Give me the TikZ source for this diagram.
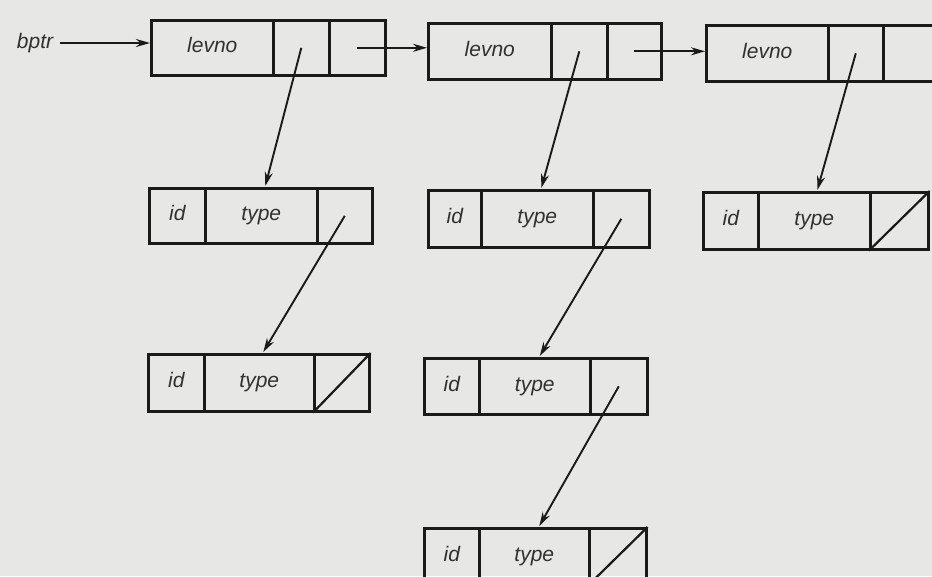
\documentclass[tikz,border=0pt]{standalone}
\usepackage{fontspec}
\setmainfont{Liberation Sans}
\usetikzlibrary{arrows.meta,calc}
\definecolor{paper}{RGB}{231,231,229}
\definecolor{ink}{RGB}{26,26,26}
\tikzset{
  textfont/.style={font=\itshape\fontsize{21}{21}\selectfont, text=ink!90},
  cellbox/.style={textfont, draw=ink, line width=2.6pt, inner sep=0pt, anchor=north west,
    text height=13pt, text depth=3pt},
  link/.style={draw=ink, line width=1.9pt, -{Stealth[length=14pt,width=8pt]}},
  nullmark/.style={draw=ink, line width=2.2pt},
  lbl/.style={textfont, inner sep=3pt},
}
% one list record of three cells: prefix, x0, x1, x2, x3, top, bottom, text 1, text 2
\newcommand\listrec[9]{%
  \node[cellbox, minimum width={(#3)-(#2)}, minimum height={(#7)-(#6)}] (#1a) at (#2,#6) {#8};
  \node[cellbox, minimum width={(#4)-(#3)}, minimum height={(#7)-(#6)}] (#1b) at (#3,#6) {#9};
  \node[cellbox, minimum width={(#5)-(#4)}, minimum height={(#7)-(#6)}] (#1c) at (#4,#6) {};
}
\begin{document}
\begin{tikzpicture}[x=1pt, y=-1pt]
  \path[use as bounding box, fill=paper] (0,0) rectangle (932,576);
  \clip (0,0) rectangle (932,576);

  % level records
  \listrec{ra}{150}{272}{328}{384}{19}{74}{levno}{}
  \listrec{rb}{427}{550}{606}{660}{22}{78}{levno}{}
  \listrec{rc}{705}{827}{882}{938}{24}{80}{levno}{}

  % symbol entries
  \listrec{sa}{148}{204}{316}{371}{187}{242}{id}{type}
  \listrec{sb}{427}{480}{592}{648}{189}{246}{id}{type}
  \listrec{sc}{702}{757}{869}{927}{191}{248}{id}{type}
  \listrec{sd}{147}{203}{313}{368}{353}{410}{id}{type}
  \listrec{se}{423}{478}{589}{646}{357}{413}{id}{type}
  \listrec{sf}{423}{478}{588}{645}{527}{583}{id}{type}

  % head pointer
  \node[lbl] (bptr) at (35,43) {bptr};
  \draw[link, shorten <=4pt] (bptr.east) -- (raa.west |- bptr.east);

  % level chain
  \draw[link] (rac.center) -- (rba.west |- rac.center);
  \draw[link] (rbc.center) -- (rca.west |- rbc.center);

  % level to first entry
  \draw[link] (rab.center) -- ($(sab.north)+(4,-1)$);
  \draw[link] (rbb.center) -- ($(sbb.north)+(4,-1)$);
  \draw[link] (rcb.center) -- ($(scb.north)+(3,-1)$);

  % entry chains
  \draw[link] (sac.center) -- ($(sdb.north)+(4,-1)$);
  \draw[link] (sbc.center) -- ($(seb.north)+(5,-1)$);
  \draw[link] (sec.center) -- ($(sfb.north)+(5,-1)$);

  % null links
  \draw[nullmark] (scc.south west) -- (scc.north east);
  \draw[nullmark] (sdc.south west) -- (sdc.north east);
  \draw[nullmark] (sfc.south west) -- (sfc.north east);
\end{tikzpicture}
\end{document}
